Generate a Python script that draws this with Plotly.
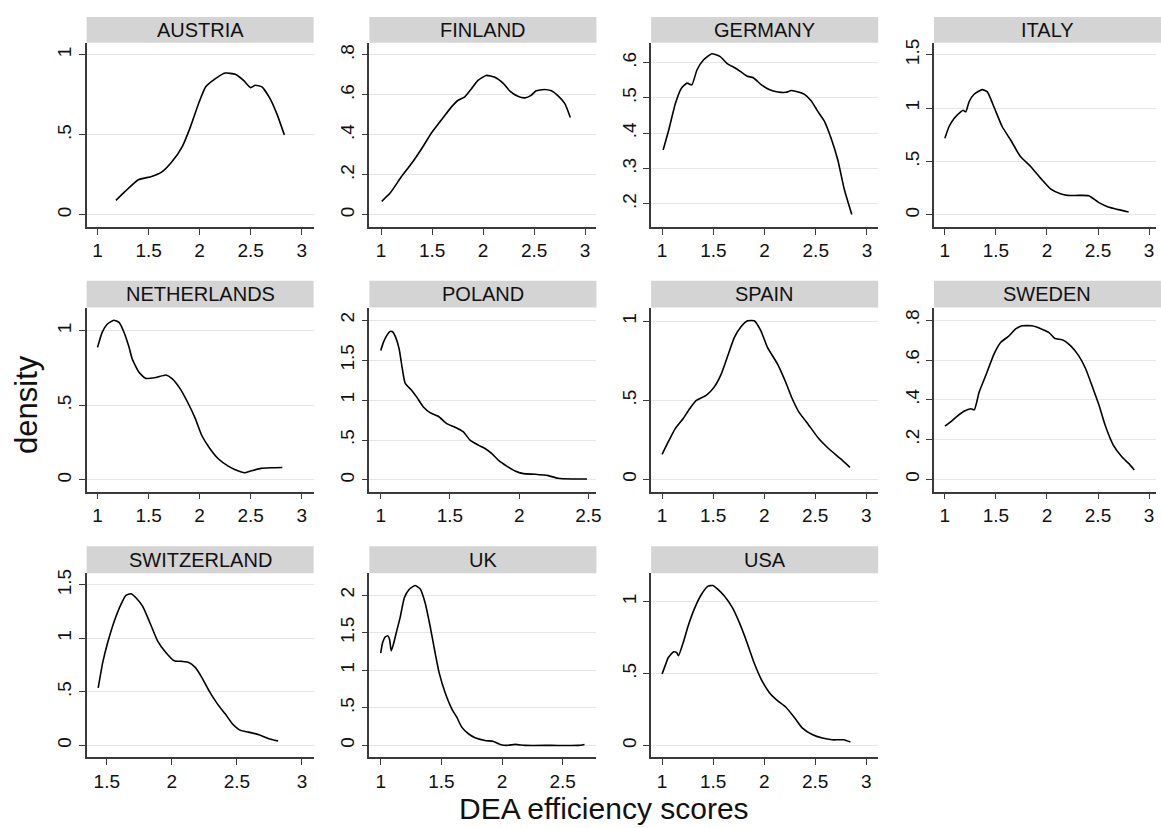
import plotly.graph_objects as go

# ---------------- data ----------------
countries = ["AUSTRIA", "FINLAND", "GERMANY", "ITALY",
             "NETHERLANDS", "POLAND", "SPAIN", "SWEDEN",
             "SWITZERLAND", "UK", "USA"]

austria_x = [1.18, 1.27, 1.40, 1.53, 1.634, 1.73, 1.83, 1.91, 1.99, 2.06, 2.155, 2.25,
             2.35, 2.43, 2.50, 2.545, 2.61, 2.69, 2.755, 2.83]
austria_y = [0.091, 0.147, 0.22, 0.24, 0.27, 0.333, 0.427, 0.55, 0.696, 0.80, 0.851, 0.886,
             0.878, 0.840, 0.795, 0.81, 0.80, 0.727, 0.634, 0.50]

finland_x = [1.006, 1.088, 1.20, 1.30, 1.40, 1.49, 1.59, 1.69, 1.755, 1.82, 1.886, 1.95,
             2.03, 2.115, 2.20, 2.26, 2.34, 2.41, 2.47, 2.52, 2.60, 2.67, 2.73, 2.80, 2.855]
finland_y = [0.068, 0.109, 0.192, 0.258, 0.333, 0.407, 0.474, 0.54, 0.573, 0.59, 0.631, 0.672,
             0.697, 0.688, 0.656, 0.62, 0.593, 0.585, 0.597, 0.62, 0.627, 0.62, 0.597, 0.557, 0.487]

germany_x = [1.01, 1.065, 1.13, 1.19, 1.243, 1.29, 1.34, 1.405, 1.486, 1.567, 1.632, 1.73,
             1.826, 1.89, 1.97, 2.05, 2.13, 2.21, 2.26, 2.31, 2.39, 2.455, 2.52, 2.585,
             2.65, 2.715, 2.78, 2.852]
germany_y = [0.353, 0.41, 0.485, 0.528, 0.542, 0.537, 0.579, 0.608, 0.625, 0.617, 0.598, 0.582,
             0.562, 0.557, 0.537, 0.523, 0.517, 0.516, 0.521, 0.518, 0.51, 0.492, 0.462, 0.434,
             0.386, 0.325, 0.24, 0.17]

italy_x = [1.0, 1.04, 1.09, 1.155, 1.18, 1.205, 1.237, 1.286, 1.367, 1.416, 1.48, 1.562,
           1.644, 1.74, 1.84, 1.937, 2.035, 2.132, 2.2, 2.31, 2.41, 2.505, 2.60, 2.70, 2.80]
italy_y = [0.718, 0.826, 0.904, 0.966, 0.98, 0.966, 1.06, 1.13, 1.174, 1.153, 1.013, 0.826,
           0.702, 0.547, 0.454, 0.345, 0.245, 0.199, 0.183, 0.183, 0.18, 0.118, 0.075, 0.05, 0.028]

netherlands_x = [1.0, 1.045, 1.094, 1.16, 1.21, 1.26, 1.309, 1.34, 1.406, 1.47, 1.57, 1.67,
                 1.73, 1.81, 1.89, 1.958, 2.02, 2.10, 2.18, 2.28, 2.38, 2.44, 2.50, 2.60,
                 2.70, 2.81]
netherlands_y = [0.889, 0.989, 1.044, 1.071, 1.056, 0.989, 0.889, 0.811, 0.722, 0.682, 0.687,
                 0.704, 0.68, 0.611, 0.511, 0.411, 0.30, 0.211, 0.144, 0.093, 0.06, 0.049,
                 0.06, 0.078, 0.082, 0.084]

poland_x = [1.0, 1.019, 1.043, 1.067, 1.085, 1.108, 1.133, 1.152, 1.176, 1.224, 1.26, 1.308,
            1.356, 1.416, 1.476, 1.537, 1.597, 1.645, 1.705, 1.753, 1.801, 1.849, 1.91,
            1.97, 2.03, 2.114, 2.21, 2.28, 2.38, 2.49]
poland_y = [1.619, 1.722, 1.806, 1.859, 1.855, 1.785, 1.639, 1.432, 1.212, 1.12, 1.037, 0.913,
            0.842, 0.797, 0.705, 0.66, 0.601, 0.498, 0.436, 0.394, 0.332, 0.249, 0.174,
            0.112, 0.079, 0.071, 0.054, 0.021, 0.012, 0.012]

spain_x = [1.0, 1.061, 1.126, 1.207, 1.27, 1.335, 1.432, 1.51, 1.58, 1.644, 1.708, 1.773,
           1.838, 1.903, 1.967, 2.032, 2.13, 2.21, 2.275, 2.339, 2.437, 2.534, 2.63, 2.744, 2.84]
spain_y = [0.158, 0.238, 0.318, 0.385, 0.447, 0.50, 0.532, 0.584, 0.668, 0.784, 0.899, 0.966,
           1.004, 1.004, 0.941, 0.836, 0.731, 0.616, 0.51, 0.427, 0.343, 0.258, 0.195, 0.132, 0.076]

sweden_x = [1.0, 1.056, 1.122, 1.187, 1.253, 1.289, 1.335, 1.40, 1.481, 1.546, 1.63, 1.69,
            1.757, 1.854, 1.95, 2.02, 2.08, 2.15, 2.23, 2.31, 2.38, 2.44, 2.51, 2.57, 2.65,
            2.733, 2.80, 2.855]
sweden_y = [0.267, 0.289, 0.318, 0.342, 0.355, 0.35, 0.438, 0.522, 0.63, 0.688, 0.722, 0.755,
            0.772, 0.772, 0.755, 0.738, 0.708, 0.702, 0.672, 0.622, 0.555, 0.472, 0.372,
            0.272, 0.172, 0.113, 0.08, 0.047]

switzerland_x = [1.434, 1.469, 1.507, 1.558, 1.609, 1.647, 1.686, 1.724, 1.775, 1.826, 1.89,
                 1.954, 2.018, 2.08, 2.13, 2.18, 2.23, 2.285, 2.35, 2.41, 2.465, 2.528, 2.59,
                 2.67, 2.745, 2.817]
switzerland_y = [0.537, 0.775, 0.961, 1.163, 1.318, 1.402, 1.417, 1.38, 1.302, 1.163, 0.977,
                 0.868, 0.791, 0.785, 0.775, 0.729, 0.636, 0.512, 0.388, 0.295, 0.202, 0.14,
                 0.124, 0.099, 0.062, 0.04]

uk_x = [1.0, 1.016, 1.038, 1.06, 1.073, 1.087, 1.105, 1.132, 1.16, 1.195, 1.234, 1.283, 1.325,
        1.366, 1.407, 1.448, 1.481, 1.53, 1.586, 1.627, 1.668, 1.723, 1.778, 1.86, 1.93, 1.985,
        2.04, 2.11, 2.19, 2.41, 2.63, 2.68]
uk_y = [1.227, 1.368, 1.444, 1.457, 1.413, 1.258, 1.346, 1.523, 1.70, 1.965, 2.075, 2.128, 2.084,
        1.898, 1.589, 1.236, 0.971, 0.706, 0.486, 0.375, 0.243, 0.155, 0.102, 0.066, 0.053, 0.013,
        0.0, 0.013, 0.0, 0.0, 0.0, 0.013]

usa_x = [1.0, 1.029, 1.061, 1.11, 1.142, 1.16, 1.207, 1.255, 1.32, 1.385, 1.45, 1.498, 1.547,
         1.61, 1.69, 1.757, 1.82, 1.90, 1.97, 2.05, 2.13, 2.213, 2.294, 2.375, 2.47, 2.57,
         2.667, 2.78, 2.845]
usa_y = [0.497, 0.554, 0.612, 0.651, 0.647, 0.624, 0.716, 0.832, 0.958, 1.051, 1.109, 1.113,
         1.086, 1.04, 0.958, 0.855, 0.739, 0.577, 0.462, 0.369, 0.312, 0.266, 0.196, 0.12,
         0.076, 0.051, 0.039, 0.039, 0.023]

# tick values / labels
yt_half = [0, 0.5, 1]
yt_half_txt = ["0", ".5", "1"]
yt_half15 = [0, 0.5, 1, 1.5]
yt_half15_txt = ["0", ".5", "1", "1.5"]
yt_half2 = [0, 0.5, 1, 1.5, 2]
yt_half2_txt = ["0", ".5", "1", "1.5", "2"]
yt_08 = [0, 0.2, 0.4, 0.6, 0.8]
yt_08_txt = ["0", ".2", ".4", ".6", ".8"]
yt_ger = [0.2, 0.3, 0.4, 0.5, 0.6]
yt_ger_txt = [".2", ".3", ".4", ".5", ".6"]
xt_13 = [1, 1.5, 2, 2.5, 3]
xt_13_txt = ["1", "1.5", "2", "2.5", "3"]
xt_125 = [1, 1.5, 2, 2.5]
xt_125_txt = ["1", "1.5", "2", "2.5"]
xt_153 = [1.5, 2, 2.5, 3]
xt_153_txt = ["1.5", "2", "2.5", "3"]

series_x = [austria_x, finland_x, germany_x, italy_x, netherlands_x, poland_x,
            spain_x, sweden_x, switzerland_x, uk_x, usa_x]
series_y = [austria_y, finland_y, germany_y, italy_y, netherlands_y, poland_y,
            spain_y, sweden_y, switzerland_y, uk_y, usa_y]
yticks = [(yt_half, yt_half_txt), (yt_08, yt_08_txt), (yt_ger, yt_ger_txt), (yt_half15, yt_half15_txt),
          (yt_half, yt_half_txt), (yt_half2, yt_half2_txt), (yt_half, yt_half_txt), (yt_08, yt_08_txt),
          (yt_half15, yt_half15_txt), (yt_half2, yt_half2_txt), (yt_half, yt_half_txt)]
xticks = [(xt_13, xt_13_txt)] * 5 + [(xt_125, xt_125_txt)] + [(xt_13, xt_13_txt)] * 2 + \
         [(xt_153, xt_153_txt), (xt_125, xt_125_txt), (xt_13, xt_13_txt)]

# ---------------- layout geometry ----------------
W, H = 1161, 828
col_left = [87, 371, 654, 938]
panel_w = 228
hdr_rows = [(13, 39), (278, 305), (545, 572)]
plot_rows = [(39, 224), (305, 490), (572, 757)]

xranges = [(0.893, 3.117), (0.885, 3.111), (0.893, 3.11), (0.893, 3.068),
           (0.893, 3.117), (0.918, 2.558), (0.893, 3.117), (0.893, 3.068),
           (1.345, 3.09), (0.907, 2.778), (0.893, 3.117)]
yranges = [(-0.075, 1.075), (-0.06, 0.86), (0.135, 0.656), (-0.112, 1.612),
           (-0.078, 1.156), (-0.146, 2.158), (-0.078, 1.088), (-0.062, 0.864),
           (-0.112, 1.609), (-0.159, 2.291), (-0.083, 1.199)]

FONT = "Arial, Liberation Sans, Helvetica, sans-serif"
AXC = "#3a3a3a"

fig = go.Figure()
shapes = []
annotations = []
layout_axes = {}

for i, name in enumerate(countries):
    r, c = divmod(i, 4)
    x0 = col_left[c]
    x1 = min(x0 + panel_w, W)
    pt, pb = plot_rows[r]
    ht, hb = hdr_rows[r]
    sfx = "" if i == 0 else str(i + 1)
    fig.add_trace(go.Scatter(
        x=series_x[i], y=series_y[i], mode="lines",
        line=dict(color="black", width=1.6, shape="spline", smoothing=0.5),
        xaxis="x" + sfx, yaxis="y" + sfx, showlegend=False, hoverinfo="skip"))
    layout_axes["xaxis" + sfx] = dict(
        domain=[x0 / W, x1 / W], anchor="y" + sfx, range=list(xranges[i]),
        tickvals=xticks[i][0], ticktext=xticks[i][1], showgrid=False, zeroline=False,
        showline=True, linecolor=AXC, linewidth=1.5, ticks="outside", ticklen=6,
        tickwidth=1.3, tickcolor=AXC, tickfont=dict(family=FONT, size=19, color="#111"))
    layout_axes["yaxis" + sfx] = dict(
        domain=[1 - pb / H, 1 - pt / H], anchor="x" + sfx, range=list(yranges[i]),
        tickvals=yticks[i][0], ticktext=yticks[i][1], tickangle=-90,
        showgrid=True, gridcolor="#e6e6e6", gridwidth=1, zeroline=False,
        showline=True, linecolor=AXC, linewidth=1.5, ticks="outside", ticklen=6,
        tickwidth=1.3, tickcolor=AXC, tickfont=dict(family=FONT, size=19, color="#111"))
    shapes.append(dict(type="rect", xref="paper", yref="paper",
                       x0=x0 / W, x1=(x0 + panel_w) / W, y0=1 - hb / H, y1=1 - ht / H,
                       fillcolor="#d4d4d4", line=dict(width=0), layer="below"))
    annotations.append(dict(text=name, xref="paper", yref="paper",
                            x=(x0 + panel_w / 2) / W, y=1 - (ht + hb) / 2 / H,
                            xanchor="center", yanchor="middle", showarrow=False,
                            font=dict(family=FONT, size=20, color="#111")))

annotations.append(dict(text="density", xref="paper", yref="paper", x=26 / W, y=1 - 402 / H,
                        textangle=-90, xanchor="center", yanchor="middle", showarrow=False,
                        font=dict(family=FONT, size=31, color="#111")))
annotations.append(dict(text="DEA efficiency scores", xref="paper", yref="paper",
                        x=607 / W, y=1 - 827 / H, xanchor="center", yanchor="bottom",
                        showarrow=False, font=dict(family=FONT, size=30, color="#111")))

fig.update_layout(
    width=W, height=H, margin=dict(l=0, r=0, t=0, b=0),
    paper_bgcolor="white", plot_bgcolor="white",
    shapes=shapes, annotations=annotations, **layout_axes)

fig.write_html("out.html")
